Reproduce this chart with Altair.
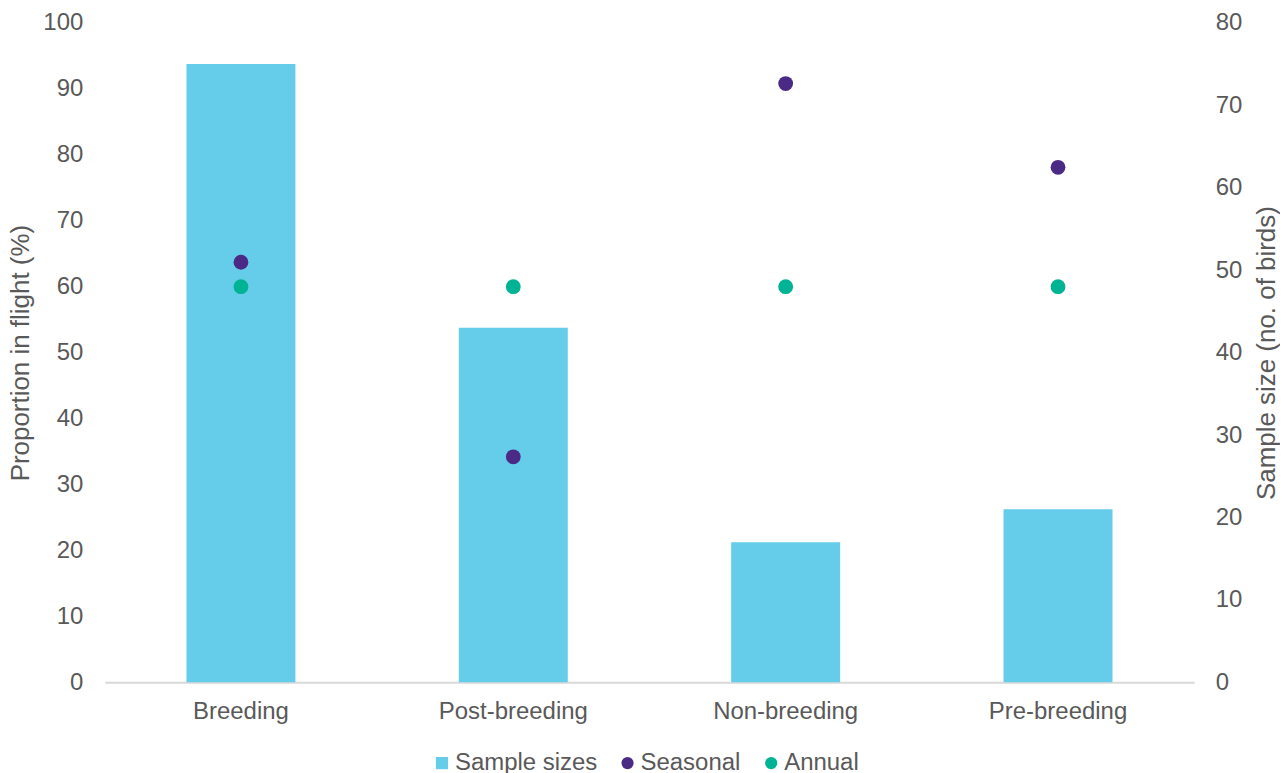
import altair as alt
import pandas as pd

categories = ["Breeding", "Post-breeding", "Non-breeding", "Pre-breeding"]
sample_sizes = [75, 43, 17, 21]
seasonal = [63.7, 34.2, 90.8, 78.1]
annual = [60, 60, 60, 60]
series_names = ["Sample sizes", "Seasonal", "Annual"]
series_colors = ["#65CCE9", "#4B2A85", "#00B394"]
series_shapes = ["square", "circle", "circle"]

FONT = "Liberation Sans"
TXT = "#595959"
FS = 24
TFS = 26

bars_df = pd.DataFrame({"category": categories, "value": sample_sizes, "series": "Sample sizes"})
pts_df = pd.concat([
    pd.DataFrame({"category": categories, "value": seasonal, "series": "Seasonal"}),
    pd.DataFrame({"category": categories, "value": annual, "series": "Annual"}),
])

legend = alt.Legend(
    title=None, orient="none", direction="horizontal", legendX=326, legendY=730,
    labelFont=FONT, labelFontSize=FS, labelColor=TXT, symbolSize=150,
    symbolStrokeWidth=0, labelOffset=1, columnPadding=18, padding=0,
)
color = alt.Color("series:N", scale=alt.Scale(domain=series_names, range=series_colors), legend=legend)
shape = alt.Shape("series:N", scale=alt.Scale(domain=series_names, range=series_shapes), legend=legend)

xenc = alt.X("category:N", sort=categories, title=None,
             scale=alt.Scale(paddingInner=0.6, paddingOuter=0.3),
             axis=alt.Axis(labelAngle=0, ticks=False, domainColor="#D9D9D9", domainWidth=2,
                           labelPadding=17, labelFontSize=FS))

bars = alt.Chart(bars_df).mark_bar().encode(
    x=xenc,
    y=alt.Y("value:Q", scale=alt.Scale(domain=[0, 80]),
            axis=alt.Axis(orient="right", title="Sample size (no. of birds)", values=list(range(0, 81, 10)),
                          domain=False, ticks=False, grid=False, labelPadding=21, titlePadding=38,
                          titleAngle=270)),
    color=color,
)

points = alt.Chart(pts_df).mark_point(filled=True, size=220, opacity=1).encode(
    x=xenc,
    y=alt.Y("value:Q", scale=alt.Scale(domain=[0, 100]),
            axis=alt.Axis(orient="left", title="Proportion in flight (%)", values=list(range(0, 101, 10)),
                          domain=False, ticks=False, grid=False, labelPadding=22, titlePadding=9)),
    color=color,
    shape=shape,
)

chart = alt.layer(bars, points).resolve_scale(y="independent").properties(
    width=1092, height=661,
    autosize=alt.AutoSizeParams(type="none"),
    padding={"left": 97, "top": 14, "right": 86, "bottom": 90},
).configure_view(stroke=None).configure_axis(
    labelFont=FONT, labelFontSize=FS, labelColor=TXT,
    titleFont=FONT, titleFontSize=TFS, titleColor=TXT, titleFontWeight="normal",
)

chart.save("out.html", embed_options={"renderer": "svg", "actions": False})
